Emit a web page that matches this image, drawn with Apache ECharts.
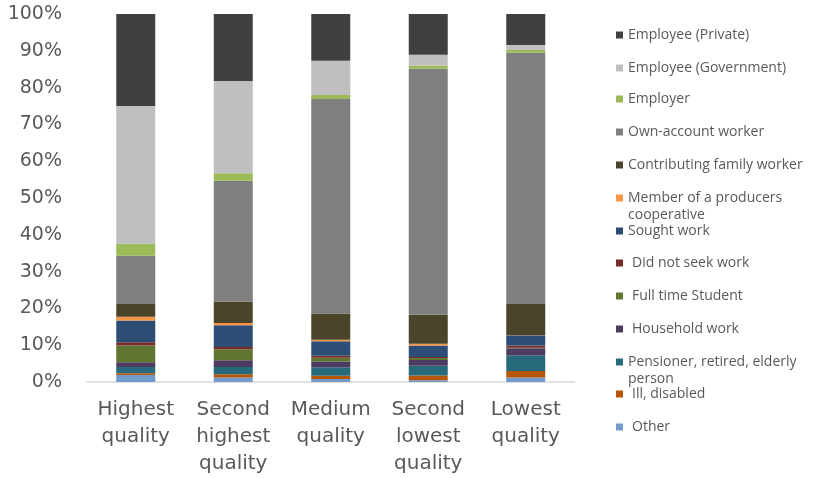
<!DOCTYPE html>
<html>
<head>
<meta charset="utf-8">
<script src="https://cdn.jsdelivr.net/npm/echarts@6/dist/echarts.min.js"></script>
<style>html,body{margin:0;padding:0;background:#fff}#c{width:824px;height:478px}</style>
</head>
<body>
<div id="c"></div>
<script>
var categories = ["Highest\nquality", "Second\nhighest\nquality", "Medium\nquality", "Second\nlowest\nquality", "Lowest\nquality"];
var seriesNames = ["Other", "Ill, disabled", "Pensioner, retired, elderly person", "Household work", "Full time Student", "Did not seek work", "Sought work", "Member of a producers cooperative", "Contributing family worker", "Own-account worker", "Employer", "Employee (Government)", "Employee (Private)"];
var other         = [1.9, 1.2, 0.8, 0.5, 1.2];
var illDisabled   = [0.5, 0.9, 0.9, 1.3, 1.8];
var pensioner     = [1.7, 2.0, 2.3, 2.6, 4.3];
var household     = [1.3, 1.8, 1.6, 1.6, 1.9];
var student       = [4.5, 3.0, 1.0, 0.5, 0.1];
var didNotSeek    = [0.9, 0.6, 0.5, 0.3, 0.6];
var soughtWork    = [5.9, 5.9, 4.0, 3.1, 2.8];
var cooperative   = [1.0, 0.6, 0.4, 0.5, 0.1];
var contributing  = [3.5, 5.8, 7.1, 7.9, 8.4];
var ownAccount    = [13.1, 32.9, 58.3, 66.8, 68.3];
var employer      = [3.3, 2.0, 1.1, 0.9, 0.7];
var employeeGov   = [37.4, 25.1, 9.3, 2.9, 1.4];
var employeePriv  = [25.0, 18.2, 12.7, 11.1, 8.4];
var yTicks = [0, 10, 20, 30, 40, 50, 60, 70, 80, 90, 100];

var seriesValues = [other, illDisabled, pensioner, household, student, didNotSeek, soughtWork, cooperative, contributing, ownAccount, employer, employeeGov, employeePriv];
var colors = ["#729ACA", "#B65708", "#276A7C", "#4D3B62", "#5F7530", "#772C2A", "#2C4D75", "#F79646", "#4A452A", "#7F7F7F", "#9BBB59", "#BFBFBF", "#404040"];

// legend layout (top to bottom), icon centre y
var legendOrder = [12, 11, 10, 9, 8, 7, 6, 5, 4, 3, 2, 1, 0];
var legendY = [35, 68, 99, 132, 165, 198, 231, 263, 296, 329, 362, 394, 427];
var legendIndent = {5: 4, 4: 4, 3: 4, 1: 4, 0: 4};
var legendLines = {
  "Member of a producers cooperative": " \nMember of a producers\ncooperative",
  "Pensioner, retired, elderly person": " \nPensioner, retired, elderly\nperson"
};

var series = seriesNames.map(function (n, i) {
  return {
    name: n, type: 'bar', stack: 'total', barWidth: '40%',
    itemStyle: {color: colors[i]},
    data: seriesValues[i]
  };
});

var legends = legendOrder.map(function (si, k) {
  var n = seriesNames[si];
  var multi = !!legendLines[n];
  return {
    left: 616, top: legendY[k] - (multi ? 25.5 : 8.5),
    orient: 'vertical', padding: 0,
    itemWidth: 7, itemHeight: 7, itemGap: 0, icon: 'rect',
    selectedMode: false,
    data: [n],
    formatter: function (name) { return legendLines[name] || name; },
    textStyle: {
      fontFamily: 'Open Sans', fontSize: 14, color: '#595959', lineHeight: 17,
      padding: [0, 0, 0, legendIndent[si] || 0]
    }
  };
});

var chart = echarts.init(document.getElementById('c'), null, {renderer: 'canvas'});
chart.setOption({
  animation: false,
  color: colors,
  grid: {left: 87, top: 14, width: 487.5, height: 368},
  legend: legends,
  xAxis: {
    type: 'category', data: categories,
    axisLine: {lineStyle: {color: '#D9D9D9', width: 1.5}},
    axisTick: {show: false},
    axisLabel: {fontFamily: 'DejaVu Sans', fontSize: 20, color: '#595959', lineHeight: 27, margin: 14, interval: 0}
  },
  yAxis: {
    type: 'value', min: yTicks[0], max: yTicks[yTicks.length - 1], interval: yTicks[1] - yTicks[0],
    axisLine: {show: false}, axisTick: {show: false}, splitLine: {show: false},
    axisLabel: {fontFamily: 'DejaVu Sans', fontSize: 19, color: '#595959', margin: 25, formatter: '{value}%'}
  },
  series: series
});
</script>
</body>
</html>
